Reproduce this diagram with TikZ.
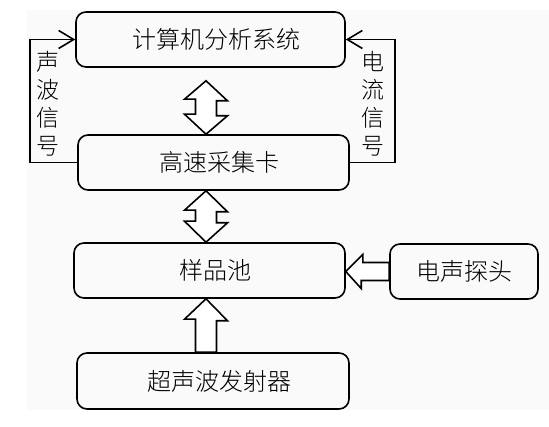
\documentclass[tikz,border=0pt]{standalone}
\usepackage{fontspec}
\newfontfamily\cjk{Noto Sans CJK SC Light}
\usepackage{tikz}
\usetikzlibrary{
    arrows.meta,      % Straight Barb
    calc              % 坐标计算
}

\begin{document}
\begin{tikzpicture}[
    x=1pt, y=-1pt,
    block/.style={draw, line width=1.6pt, rounded corners=10pt, minimum height=55pt, align=center, font=\cjk\fontsize{24}{28}\selectfont},
    vlabel/.style={align=center, inner sep=0pt, font=\cjk\fontsize{23}{28}\selectfont},
    sigline/.style={line width=1.6pt, -{Straight Barb[length=15pt, width=18pt, line width=1.6pt]}},
    fatarrow/.style={draw, line width=1.6pt, fill=white, line join=miter},
  ]
    \useasboundingbox (0,0) rectangle (549,427);
    \fill[black!2] (27,10) rectangle (549,410);

    % Blocks
    \node[block, minimum width=269pt] (b1) at (210.5,39.5) {\hspace*{12pt}计算机分析系统};
    \node[block, minimum width=271pt] (b2) at (213.5,162.5) {\hspace*{12pt}高速采集卡};
    \node[block, minimum width=271pt] (b3) at (209.5,270.5) {\hspace*{12pt}样品池};
    \node[block, minimum width=148pt] (b4) at (464,271.5) {电声探头};
    \node[block, minimum width=272pt, minimum height=56pt] (b5) at (213,381) {\hspace*{12pt}超声波发射器};

    % axis of the vertical fat arrows
    \coordinate (ax) at (206,0);

    % Fat arrows
    \draw[fatarrow] ($(ax|-b1.south)+(0,13)$) -- ++(21.5,20) -- ++(-11,0) -- ++(0,15) -- ++(11,0)
        -- (ax|-b2.north) -- ++(-21.5,-20) -- ++(11,0) -- ++(0,-15) -- ++(-11,0) -- cycle;
    \draw[fatarrow] (ax|-b2.south) -- ++(21.5,21) -- ++(-11,0) -- ++(0,11) -- ++(11,0)
        -- (ax|-b3.north) -- ++(-21.5,-21) -- ++(11,0) -- ++(0,-11) -- ++(-11,0) -- cycle;
    \draw[fatarrow] (ax|-b3.south) -- ++(21.5,22) -- ++(-11,0) -- ($(ax|-b5.north)+(10.5,0)$)
        -- ++(-21,0) -- ++(0,-33) -- ++(-11,0) -- cycle;
    \draw[fatarrow] (b3.east|-b4.west) -- ++(17,-17) -- ++(0,8) -- ($(b4.west)+(0,-9)$)
        -- ++(0,18) -- ++(-28,0) -- ++(0,8) -- cycle;

    % Signal lines
    \draw[sigline] (b2.west) -- ++(-47,0) |- (b1.west);
    \draw[sigline] (b2.east) -- ++(45,0) |- (b1.east);

    % Labels
    \node[vlabel] (sonic) at (48,104) {声\\波\\信\\号};
    \node[vlabel] (current) at (373,104) {电\\流\\信\\号};
  \end{tikzpicture}
\end{document}
